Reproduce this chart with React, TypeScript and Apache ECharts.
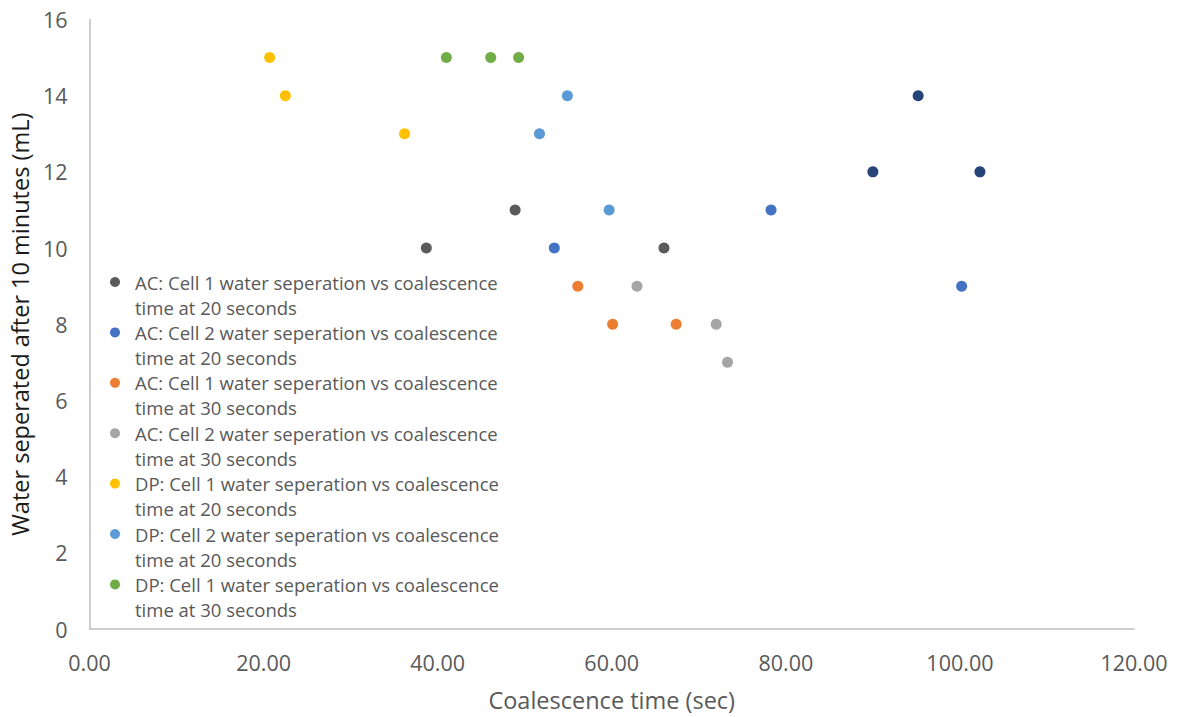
import React, { useEffect, useRef } from "react";
import * as echarts from "echarts";

const seriesNames = [
  "AC: Cell 1 water seperation vs coalescence time at 20 seconds",
  "AC: Cell 2 water seperation vs coalescence time at 20 seconds",
  "AC: Cell 1 water seperation vs coalescence time at 30 seconds",
  "AC: Cell 2 water seperation vs coalescence time at 30 seconds",
  "DP: Cell 1 water seperation vs coalescence time at 20 seconds",
  "DP: Cell 2 water seperation vs coalescence time at 20 seconds",
  "DP: Cell 1 water seperation vs coalescence time at 30 seconds",
  "DP: Cell 2 water seperation vs coalescence time at 30 seconds",
];

const acCell1At20: number[][] = [[38.7, 10], [48.9, 11], [66.0, 10]];
const acCell2At20: number[][] = [[53.4, 10], [78.3, 11], [100.2, 9]];
const acCell1At30: number[][] = [[56.1, 9], [60.1, 8], [67.4, 8]];
const acCell2At30: number[][] = [[62.9, 9], [72.0, 8], [73.3, 7]];
const dpCell1At20: number[][] = [[20.7, 15], [22.5, 14], [36.2, 13]];
const dpCell2At20: number[][] = [[51.7, 13], [54.9, 14], [59.7, 11]];
const dpCell1At30: number[][] = [[41.0, 15], [46.1, 15], [49.3, 15]];
const dpCell2At30: number[][] = [[90.0, 12], [95.2, 14], [102.3, 12]];

const seriesData = [acCell1At20, acCell2At20, acCell1At30, acCell2At30, dpCell1At20, dpCell2At20, dpCell1At30, dpCell2At30];
const seriesColors = ["#5B5B5B", "#4472C4", "#ED7D31", "#A5A5A5", "#FFC000", "#5B9BD5", "#70AD47", "#264478"];
const legendCount = 7;

const xTitle = "Coalescence time (sec)";
const yTitle = "Water seperated after 10 minutes (mL)";

export default function App() {
  const ref = useRef<HTMLDivElement>(null);
  useEffect(() => {
    if (!ref.current) return;
    const chart = echarts.init(ref.current, null, { renderer: "svg" });
    const font = "Open Sans";
    chart.setOption({
      animation: false,
      backgroundColor: "#ffffff",
      grid: { left: 89, right: 49, top: 19.5, bottom: 83, containLabel: false },
      legend: {
        data: seriesNames.slice(0, legendCount),
        orient: "vertical",
        left: 110,
        top: 272.5,
        padding: 0,
        icon: "circle",
        itemWidth: 10,
        itemHeight: 10,
        itemGap: 6.4,
        selectedMode: false,
        formatter: (name: string) => {
          const parts = name.split(" time at");
          return "{t|" + parts[0] + "}\n{t|time at" + parts[1] + "}";
        },
        textStyle: {
          padding: [25, 0, 0, 10],
          rich: {
            t: { fontFamily: font, fontSize: 18.5, color: "#595959", lineHeight: 25 },
          },
        },
      },
      xAxis: {
        type: "value",
        min: 0,
        max: 120,
        interval: 20,
        name: xTitle,
        nameLocation: "middle",
        nameGap: 59,
        nameTextStyle: { fontFamily: font, fontSize: 23.5, color: "#595959" },
        axisLine: { show: true, onZero: false, lineStyle: { color: "#BFBFBF", width: 1.5 } },
        axisTick: { show: false },
        splitLine: { show: false },
        axisLabel: {
          fontFamily: font,
          fontSize: 21.5,
          color: "#595959",
          margin: 22,
          formatter: (v: number) => v.toFixed(2),
        },
      },
      yAxis: {
        type: "value",
        min: 0,
        max: 16,
        interval: 2,
        name: yTitle,
        nameLocation: "middle",
        nameGap: 44,
        nameTextStyle: { fontFamily: font, fontSize: 23.5, color: "#1a1a1a" },
        axisLine: { show: true, onZero: false, lineStyle: { color: "#BFBFBF", width: 1.5 } },
        axisTick: { show: false },
        splitLine: { show: false },
        axisLabel: { fontFamily: font, fontSize: 21.5, color: "#595959", margin: 22 },
      },
      series: seriesData.map((d, i) => ({
        name: seriesNames[i],
        type: "scatter",
        data: d,
        symbol: "circle",
        symbolSize: 11,
        itemStyle: { color: seriesColors[i], opacity: 1 },
      })),
    });
    return () => chart.dispose();
  }, []);
  return <div ref={ref} style={{ position: "fixed", left: 0, top: 0, width: 1183, height: 717 }} />;
}
